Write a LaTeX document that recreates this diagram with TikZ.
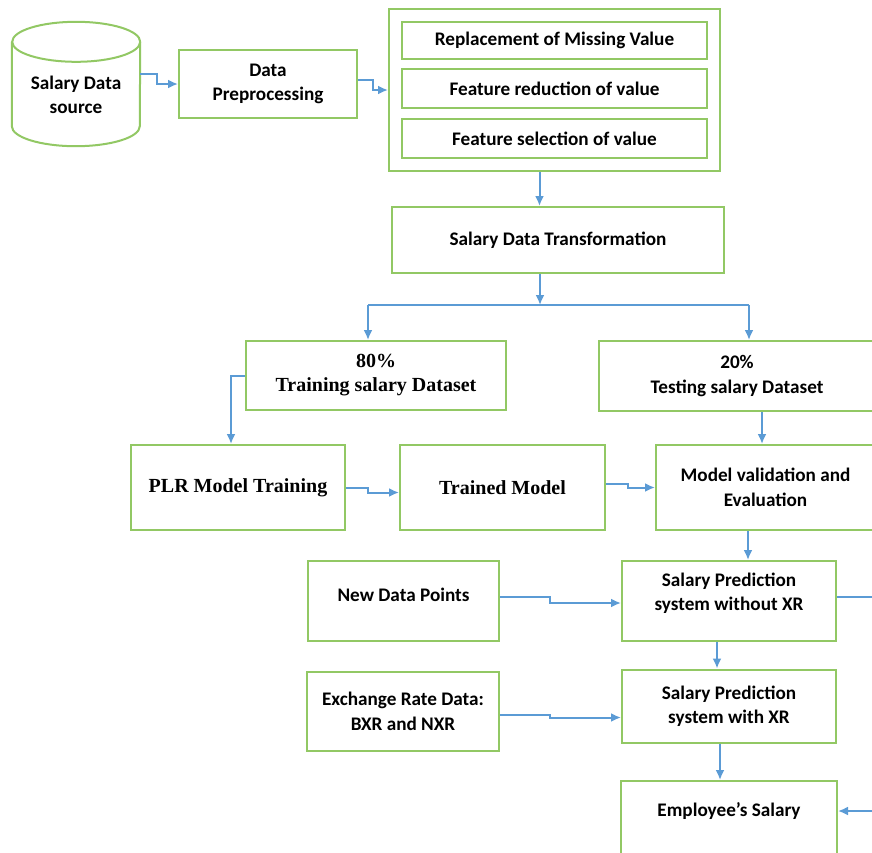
\documentclass[tikz,border=0pt]{standalone}
\usepackage{fontspec}
\setmainfont{Carlito}
\newfontfamily\timesfont{Liberation Serif}
\usetikzlibrary{shapes.geometric, arrows.meta, fit}
\definecolor{boxgreen}{RGB}{146,200,100}
\definecolor{arrowblue}{RGB}{91,155,213}

\begin{document}
\begin{tikzpicture}[x=1pt, y=-1pt,
  every node/.style={font=\fontsize{19.2}{24.5}\selectfont\bfseries, align=center},
  box/.style={draw=boxgreen, line width=2pt, inner sep=2pt},
  serif/.style={font=\fontsize{20}{24}\selectfont\timesfont\bfseries},
  arr/.style={draw=arrowblue, line width=2pt, -{Latex[length=10pt,width=9pt]}},
  link/.style={draw=arrowblue, line width=2pt}]

\useasboundingbox (0,0) rectangle (872,852);
\clip (0,0) rectangle (872,852);
\fill[white] (0,0) rectangle (872,852);

% Fonte e pre-processamento
\node[minimum width=128, minimum height=124, inner sep=0pt] (db) at (76,84) {};
\draw[boxgreen, line width=2pt] (db.north east) ++(0,20)
  arc[start angle=0, end angle=360, x radius=64pt, y radius=20pt];
\draw[boxgreen, line width=2pt] (db.north west) ++(0,20) -- ([yshift=20pt]db.south west)
  arc[start angle=180, end angle=360, x radius=64pt, y radius=20pt] -- ([yshift=-20pt]db.north east);
\node (dbt) at (76,95) {Salary Data\\source};
\node[box, minimum width=178, minimum height=68] (dp) at (268,84) {Data\\Preprocessing};

\node[box, minimum width=305, minimum height=37] (r1) at (554.5,40.5) {Replacement of Missing Value};
\node[box, minimum width=305, minimum height=39] (r2) at (554.5,88.5) {Feature reduction of value};
\node[box, minimum width=305, minimum height=39] (r3) at (554.5,138.5) {Feature selection of value};
\node[box, fit=(r1)(r3), inner sep=12pt] (pre) {};

\node[box, minimum width=332, minimum height=66] (tr) at (558,240) {Salary Data Transformation};

% Divisao dos dados
\coordinate (sl) at (368,305);
\coordinate (sr) at (749,305);
\node[box, serif, minimum width=260, minimum height=69] (trn) at (376,375.5) {80\%\\Training salary Dataset};
\node[box, minimum width=276, minimum height=70] (tst) at (737,376) {20\%\\Testing salary Dataset};

% Modelo
\node[box, serif, minimum width=214, minimum height=85] (plr) at (238,487.5) {PLR Model Training};
\node[box, serif, minimum width=205, minimum height=85] (tm) at (502.5,487.5) {Trained Model};
\node[box, minimum width=219, minimum height=85] (mv) at (765.5,487.5) {Model validation and\\Evaluation};

% Previsao
\node[box, minimum width=191, minimum height=80] (nd) at (403.5,601) {};
\node (ndt) at (403.5,595) {New Data Points};
\node[box, minimum width=214, minimum height=80] (sp1) at (729,601) {};
\node (sp1t) at (729,593) {Salary Prediction\\system without XR};
\node[box, minimum width=192, minimum height=79] (er) at (403,711.5) {Exchange Rate Data:\\BXR and NXR};
\node[box, minimum width=214, minimum height=73] (sp2) at (729,706) {Salary Prediction\\system with XR};
\node[box, minimum width=216, minimum height=110, anchor=north] (emp) at (729,780) {};
\node (empt) at (729,811) {Employee’s Salary};
\coordinate (outr) at (872,597);
\coordinate (inr) at (872,811);

% setas
\draw[arr] ([yshift=10pt]db.east) -- ++(17,0) |- (dp.west);
\draw[arr] ([yshift=4pt]dp.east) -- ++(15,0) |- (pre.west);
\draw[arr] ([xshift=-15pt]pre.south) -- ([xshift=-15pt]pre.south |- tr.north);
\draw[arr] ([xshift=-18pt]tr.south) -- ([xshift=-18pt]tr.south |- sl);
\draw[link] (sl) -- (sr);
\draw[arr] (sl) -- (sl |- trn.north);
\draw[arr] (sr) -- (sr |- tst.north);
\draw[arr] (trn.west) -| ([xshift=-7pt]plr.north);
\draw[arr] ([xshift=25pt]tst.south) -- ([xshift=25pt]tst.south |- mv.north);
\draw[arr] (plr.east) -- ++(22,0) |- ([yshift=-5pt]tm.west);
\draw[arr] ([yshift=4pt]tm.east) -- ++(22,0) |- (mv.west);
\draw[arr] ([xshift=-17.5pt]mv.south) -- ([xshift=-17.5pt]mv.south |- sp1.north);
\draw[arr] ([yshift=4pt]nd.east) -- ++(50,0) |- ([yshift=-2pt]sp1.west);
\draw[link] ([yshift=4pt]sp1.east) -- (outr);
\draw[arr] ([xshift=-12pt]sp1.south) -- ([xshift=-12pt]sp1.south |- sp2.north);
\draw[arr] ([yshift=-3.5pt]er.east) -- ++(50,0) |- ([yshift=-11.5pt]sp2.west);
\draw[arr] ([xshift=-9pt]sp2.south) -- ([xshift=-9pt]sp2.south |- emp.north);
\draw[arr] (inr) -- (inr -| emp.east);

\end{tikzpicture}
\end{document}
